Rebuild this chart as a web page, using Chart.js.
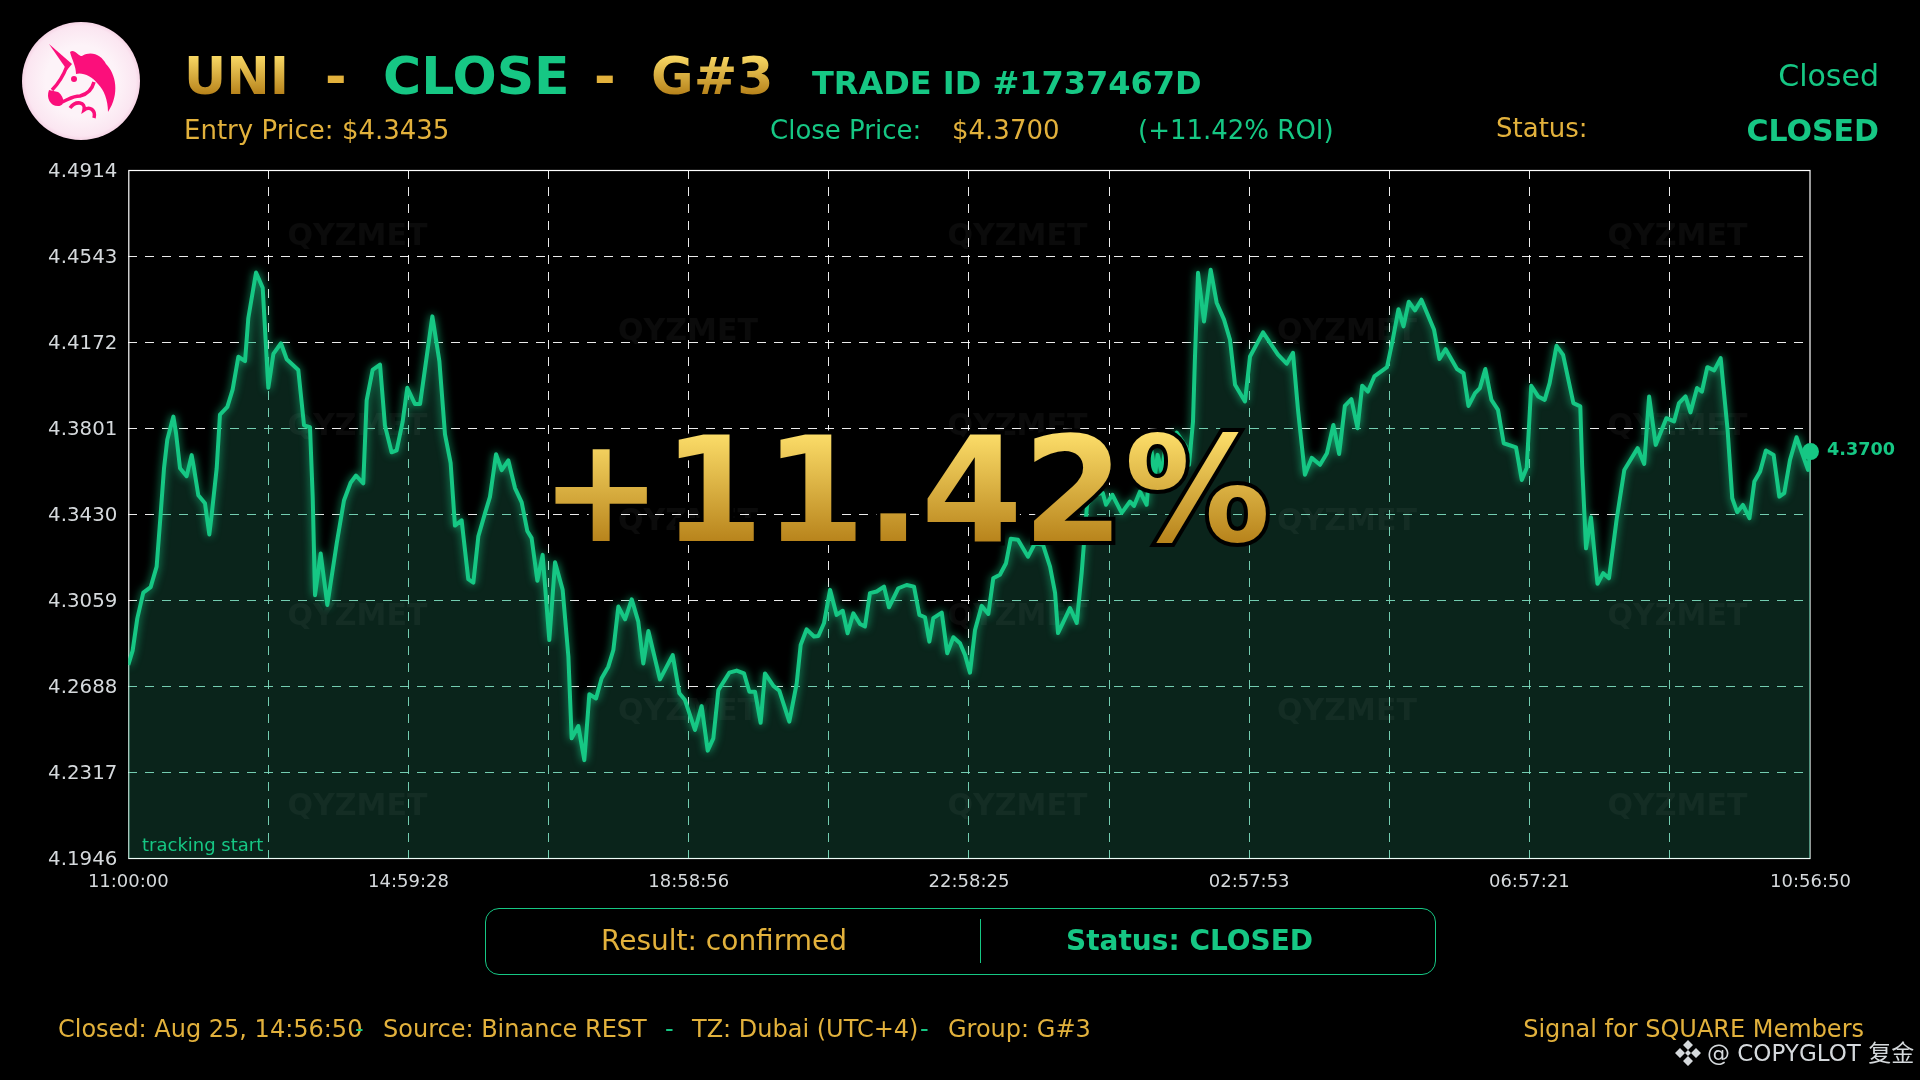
<!DOCTYPE html>
<html lang="en">
<head>
<meta charset="UTF-8">
<title>UNI close</title>
<script src="https://cdn.jsdelivr.net/npm/chart.js"></script>
<style>
    html, body { margin: 0; background: #000; }
    body { position: relative; width: 1920px; height: 1080px; overflow: hidden; font-family: "DejaVu Sans", sans-serif; }
    #chart { position: absolute; left: 0; top: 0; }
    .t { position: absolute; line-height: 1; white-space: pre; }
    .gold { color: #e2b13c; }
    .green { color: #16c784; }
    .b { font-weight: bold; }
    .head { font-size: 52px; font-weight: bold; top: 50px; }
    .grad { color: transparent; background: linear-gradient(#fbdc68 8%, #b8841c 84%); -webkit-background-clip: text; background-clip: text; }
    .big { position: absolute; left: 540px; top: 417px; font-size: 146px; font-weight: bold; line-height: 1; white-space: pre; }
    .big::before { content: attr(data-t); position: absolute; left: 0; top: 0; color: #000; -webkit-text-stroke: 8px #000; }
    .big span { position: relative; display: inline-block; color: transparent; background: linear-gradient(#fbdc68 12%, #b8841c 85%); -webkit-background-clip: text; background-clip: text; }
    #box { position: absolute; left: 485px; top: 908px; width: 949px; height: 65px; border: 1.5px solid #16c784; border-radius: 14px; }
    #boxDiv { position: absolute; left: 980px; top: 919px; width: 1.2px; height: 44px; background: #16c784; }
    #logo { position: absolute; left: 22px; top: 22px; }
    #mark { position: absolute; left: 1674px; top: 1039px; }
</style>
</head>
<body>
<canvas id="chart" width="1920" height="1080"></canvas>

<svg id="logo" width="118" height="118" viewBox="0 0 118 118">
    <defs>
        <radialGradient id="logoBg">
            <stop offset="0.6" stop-color="#fdf3f8"/>
            <stop offset="0.93" stop-color="#fbe6f1"/>
            <stop offset="1" stop-color="#f6d5e6"/>
        </radialGradient>
    </defs>
    <circle cx="59" cy="59" r="59" fill="url(#logoBg)"/>
    <g fill="#fb0f7b">
        <path d="M27 22 L50 42 L45 48 Z"/>
        <path d="M48 30 C52 26 56 34 60 34 C70 28 80 34 84 42 C94 52 98 72 86 90 C86 78 82 68 76 62 C70 54 60 50 54 52 C54 44 50 38 48 30 Z"/>
        <path d="M27 68 C24 76 28 84 36 84 C44 84 42 74 36 70 Z"/>
        <circle cx="52" cy="57" r="3"/>
    </g>
    <g fill="none" stroke="#fb0f7b" stroke-width="3.5">
        <path d="M45 44 C42 52 36 62 30 68 M40 80 C46 78 50 74 58 74 C66 72 70 68 72 60"/>
        <path d="M48 86 C54 78 64 80 62 88 C68 84 74 88 72 96"/>
    </g>
</svg>

<div class="t head grad" style="left:184px">UNI</div>
<div class="t head gold" style="left:325px">-</div>
<div class="t head green" style="left:383px">CLOSE</div>
<div class="t head gold" style="left:594px">-</div>
<div class="t head grad" style="left:651px">G#3</div>
<div class="t green b" style="left:812px;top:67px;font-size:32px">TRADE ID #1737467D</div>

<div class="t gold" style="left:184px;top:117px;font-size:26px">Entry Price: $4.3435</div>
<div class="t green" style="left:770px;top:117px;font-size:26px">Close Price:</div>
<div class="t gold" style="left:952px;top:117px;font-size:26px">$4.3700</div>
<div class="t green" style="left:1138px;top:117px;font-size:26px">(+11.42% ROI)</div>
<div class="t gold" style="left:1496px;top:115px;font-size:26px">Status:</div>
<div class="t green" style="right:41px;top:61px;font-size:30px">Closed</div>
<div class="t green b" style="right:41px;top:116px;font-size:30px">CLOSED</div>

<div class="t green" style="left:142px;top:836px;font-size:18px">tracking start</div>

<div class="big" data-t="+11.42%"><span>+11.42%</span></div>

<div id="box"></div>
<div id="boxDiv"></div>
<div class="t gold" style="left:601px;top:927px;font-size:28px">Result: confirmed</div>
<div class="t green b" style="left:1066px;top:927px;font-size:28px">Status: CLOSED</div>

<div class="t gold" style="left:58px;top:1017px;font-size:24px">Closed: Aug 25, 14:56:50</div>
<div class="t green" style="left:355px;top:1017px;font-size:24px">-</div>
<div class="t gold" style="left:383px;top:1017px;font-size:24px">Source: Binance REST</div>
<div class="t green" style="left:665px;top:1017px;font-size:24px">-</div>
<div class="t gold" style="left:692px;top:1017px;font-size:24px">TZ: Dubai (UTC+4)</div>
<div class="t green" style="left:920px;top:1017px;font-size:24px">-</div>
<div class="t gold" style="left:948px;top:1017px;font-size:24px">Group: G#3</div>
<div class="t gold" style="right:56px;top:1017px;font-size:24px">Signal for SQUARE Members</div>

<svg id="mark" width="28" height="28" viewBox="0 0 28 28" fill="#d5d9dc">
    <path d="M14 1 L19 6 L14 11 L9 6 Z M6 9 L11 14 L6 19 L1 14 Z M22 9 L27 14 L22 19 L17 14 Z M14 17 L19 22 L14 27 L9 22 Z"/>
    <path d="M14 11 L17 14 L14 17 L11 14 Z"/>
</svg>
<div class="t" style="left:1707px;top:1042px;font-size:23px;color:#d5d9dc;font-family:'DejaVu Sans','Noto Sans CJK SC',sans-serif">@ COPYGLOT 复金</div>

<script>
    const GREEN = '#16c784';

    // tempo desde 11:00:00, em minutos
    const elapsedMin = [
        0, 3.7, 7.7, 12.8, 19.1, 24.2, 27.6, 30.5, 33.3, 38.5, 40.7, 44.2, 49.8, 54.1, 56.1, 59.8, 65.5, 69.2, 71.2, 75.5,
        78.3, 84.6, 89.1, 94.0, 99.7, 102.5, 109.1, 114.8, 119.6, 123.9, 130.4, 135.3, 145.2, 150.1, 155.2, 157.5, 159.5, 164.3, 170.0, 178.0,
        184.2, 189.9, 194.5, 200.7, 203.6, 208.7, 215.0, 219.2, 224.9, 229.2, 234.3, 238.3, 244.9, 249.2, 259.7, 265.7, 270.5, 275.3, 279.0, 284.7,
        290.4, 294.7, 299.0, 304.7, 308.9, 314.1, 318.9, 324.6, 330.3, 336.0, 340.8, 344.5, 349.4, 353.9, 359.6, 364.5, 371.0, 375.9, 378.7, 384.4,
        389.5, 393.8, 399.5, 404.3, 410.0, 414.3, 418.6, 424.3, 430.0, 435.6, 439.9, 444.2, 454.1, 465.0, 470.7, 475.5, 484.0, 489.7, 494.9, 499.7,
        504.0, 513.4, 519.6, 525.9, 530.5, 535.3, 540.1, 543.8, 551.0, 556.1, 564.6, 570.9, 574.3, 579.4, 585.7, 589.4, 594.2, 599.4, 605.0, 610.2,
        614.4, 619.3, 625.0, 629.2, 633.5, 639.2, 645.5, 649.7, 657.7, 664.8, 671.1, 675.7, 680.5, 684.2, 687.6, 694.8, 699.5, 704.7, 710.4, 714.7,
        718.9, 723.2, 728.9, 734.6, 738.8, 744.5, 749.7, 753.7, 759.9, 768.5, 774.4, 781.3, 787.3, 791.6, 794.1, 804.4, 810.1, 814.3, 816.3, 818.9,
        824.9, 832.3, 835.1, 840.5, 848.5, 855.6, 859.0, 864.1, 869.8, 873.8, 876.9, 879.2, 882.7, 885.5, 891.4, 895.5, 903.4, 906.0, 909.4, 911.1,
        913.7, 918.8, 924.5, 929.6, 935.9, 941.0, 945.3, 953.8, 958.1, 969.2, 982.0, 989.4, 994.8, 999.1, 1005.0, 1010.8, 1017.9, 1023.8, 1029.3, 1034.2,
        1039.1, 1044.7, 1049.9, 1053.9, 1058.8, 1064.3, 1075.1, 1080.0, 1084.9, 1089.2, 1093.7, 1099.0, 1104.5, 1115.3, 1119.9, 1125.1, 1134.9, 1140.5, 1144.7, 1150.3,
        1154.5, 1159.1, 1164.3, 1169.9, 1174.8, 1185.3, 1190.2, 1194.4, 1198.3, 1204.2, 1209.8, 1214.0, 1219.9, 1225.5, 1234.3, 1240.2, 1241.8, 1245.1, 1249.3, 1254.9,
        1259.8, 1264.7, 1271.2, 1277.8, 1289.2, 1294.8, 1299.0, 1304.6, 1313.7, 1320.3, 1324.5, 1330.1, 1334.3, 1339.9, 1344.1, 1348.7, 1354.6, 1360.1, 1366.0, 1370.0,
        1374.2, 1379.1, 1384.7, 1388.9, 1393.8, 1398.7, 1405.3, 1410.2, 1414.4, 1419.3, 1424.9, 1434.7, 1436.8
    ];

    const closePrice = [
        4.2781, 4.2842, 4.2981, 4.3092, 4.3116, 4.3204, 4.3428, 4.3628, 4.3751, 4.3851, 4.3782, 4.3628, 4.3594, 4.3685, 4.3628, 4.3512, 4.3477, 4.3343, 4.3428, 4.3628,
        4.3859, 4.3893, 4.3967, 4.4109, 4.4090, 4.4275, 4.4472, 4.4406, 4.3975, 4.4121, 4.4167, 4.4098, 4.4052, 4.3813, 4.3805, 4.3505, 4.3081, 4.3261, 4.3039, 4.3304,
        4.3489, 4.3566, 4.3597, 4.3563, 4.3921, 4.4052, 4.4075, 4.3813, 4.3697, 4.3705, 4.3828, 4.3975, 4.3905, 4.3905, 4.4283, 4.4090, 4.3774, 4.3651, 4.3381, 4.3404,
        4.3150, 4.3135, 4.3335, 4.3435, 4.3505, 4.3689, 4.3620, 4.3662, 4.3543, 4.3481, 4.3358, 4.3327, 4.3143, 4.3255, 4.2888, 4.3223, 4.3104, 4.2816, 4.2464, 4.2517,
        4.2370, 4.2654, 4.2636, 4.2723, 4.2773, 4.2845, 4.3032, 4.2977, 4.3063, 4.2967, 4.2787, 4.2927, 4.2718, 4.2823, 4.2658, 4.2629, 4.2500, 4.2603, 4.2411, 4.2464,
        4.2672, 4.2747, 4.2756, 4.2744, 4.2665, 4.2665, 4.2531, 4.2744, 4.2690, 4.2669, 4.2536, 4.2701, 4.2867, 4.2934, 4.2903, 4.2905, 4.2960, 4.3104, 4.2996, 4.3014,
        4.2917, 4.3003, 4.2957, 4.2946, 4.3090, 4.3097, 4.3118, 4.3029, 4.3111, 4.3125, 4.3118, 4.2996, 4.2986, 4.2881, 4.2982, 4.3006, 4.2831, 4.2900, 4.2874, 4.2823,
        4.2747, 4.2931, 4.3035, 4.3000, 4.3154, 4.3169, 4.3219, 4.3324, 4.3320, 4.3247, 4.3305, 4.3298, 4.3204, 4.3091, 4.2918, 4.3026, 4.2961, 4.3177, 4.3307, 4.3471,
        4.3514, 4.3522, 4.3471, 4.3514, 4.3436, 4.3485, 4.3466, 4.3528, 4.3471, 4.3708, 4.3600, 4.3686, 4.3608, 4.3708, 4.3751, 4.3782, 4.3722, 4.3643, 4.3830, 4.4110,
        4.4471, 4.4261, 4.4484, 4.4342, 4.4269, 4.4182, 4.3988, 4.3916, 4.4110, 4.4214, 4.4118, 4.4079, 4.4126, 4.3880, 4.3600, 4.3673, 4.3643, 4.3693, 4.3815, 4.3690,
        4.3897, 4.3926, 4.3801, 4.3984, 4.3959, 4.4024, 4.4064, 4.4182, 4.4314, 4.4240, 4.4346, 4.4309, 4.4355, 4.4225, 4.4099, 4.4142, 4.4056, 4.4038, 4.3897, 4.3952,
        4.3974, 4.4056, 4.3923, 4.3880, 4.3736, 4.3718, 4.3578, 4.3629, 4.3984, 4.3938, 4.3923, 4.3995, 4.4156, 4.4117, 4.3909, 4.3895, 4.3636, 4.3283, 4.3417, 4.3130,
        4.3176, 4.3154, 4.3406, 4.3621, 4.3715, 4.3647, 4.3938, 4.3729, 4.3844, 4.3830, 4.3909, 4.3938, 4.3869, 4.3974, 4.3959, 4.4064, 4.4050, 4.4103, 4.3794, 4.3499,
        4.3439, 4.3470, 4.3413, 4.3571, 4.3614, 4.3705, 4.3686, 4.3506, 4.3521, 4.3664, 4.3762, 4.3621, 4.3700
    ];

    const priceTicks = [4.1946, 4.2317, 4.2688, 4.3059, 4.3430, 4.3801, 4.4172, 4.4543, 4.4914];
    const timeLabels = ['11:00:00', '14:59:28', '18:58:56', '22:58:25', '02:57:53', '06:57:21', '10:56:50'];
    const gridStepMin = 119.67;
    const maxMin = 1436.83;
    const watermark = 'QYZMET';

    const points = elapsedMin.map((x, i) => ({ x: x, y: closePrice[i] }));
    const lastIdx = points.length - 1;
    const timeTicks = [];
    for (let i = 0; i < 12; i++) timeTicks.push({ value: i * gridStepMin });
    timeTicks.push({ value: maxMin });

    // moldura, marca d'agua e as misturas do preenchimento
    const chartDeco = {
        id: 'chartDeco',
        beforeDraw(chart) {
            chart.ctx.fillStyle = '#000';
            chart.ctx.fillRect(0, 0, chart.width, chart.height);
        },
        beforeDatasetsDraw(chart) {
            const { ctx, chartArea: a } = chart;
            ctx.strokeStyle = '#fff';
            ctx.lineWidth = 1.2;
            ctx.strokeRect(a.left + 0.5, a.top + 0.5, a.right - a.left - 1, a.bottom - a.top - 0.5);
            ctx.globalCompositeOperation = 'multiply';
        },
        beforeDatasetDraw(chart, args) {
            if (args.index === 2) {
                chart.ctx.shadowColor = 'rgba(22,199,132,.85)';
                chart.ctx.shadowBlur = 9;
            }
        },
        afterDatasetDraw(chart, args) {
            const ctx = chart.ctx;
            if (args.index === 0) ctx.globalCompositeOperation = 'lighter';
            if (args.index === 1) {
                ctx.globalCompositeOperation = 'source-over';
                ctx.save();
                ctx.font = 'bold 30px "DejaVu Sans"';
                ctx.fillStyle = 'rgba(255,255,255,.042)';
                ctx.textAlign = 'center';
                ctx.textBaseline = 'middle';
                for (let row = 0; row < 7; row++) {
                    const cols = row % 2 ? [688, 1347] : [357.5, 1017.5, 1677.5];
                    cols.forEach(x => ctx.fillText(watermark, x, 237.5 + row * 95));
                }
                ctx.restore();
            }
            if (args.index === 2) {
                ctx.shadowColor = 'transparent';
                ctx.shadowBlur = 0;
            }
        },
        afterDraw(chart) {
            const ctx = chart.ctx;
            ctx.save();
            ctx.font = 'bold 17.6px "DejaVu Sans"';
            ctx.fillStyle = GREEN;
            ctx.textBaseline = 'middle';
            ctx.fillText(closePrice[lastIdx].toFixed(4), 1827, chart.scales.y.getPixelForValue(closePrice[lastIdx]) - 1);
            ctx.restore();
        }
    };

    new Chart(document.getElementById('chart').getContext('2d'), {
        type: 'line',
        data: {
            datasets: [
                { data: points, order: 5, fill: 'start', backgroundColor: 'rgb(115,184,163)', borderColor: 'transparent', borderWidth: 0, pointRadius: 0 },
                { data: points, order: 4, fill: 'start', backgroundColor: 'rgb(10,36,27)', borderColor: 'transparent', borderWidth: 0, pointRadius: 0 },
                { data: points, order: 2, fill: false, borderColor: GREEN, borderWidth: 4, pointRadius: 0, tension: 0, borderJoinStyle: 'round' },
                { data: [points[lastIdx]], order: 1, clip: false, showLine: false, backgroundColor: GREEN, borderColor: GREEN, pointRadius: 8.5, pointBorderWidth: 0 }
            ]
        },
        options: {
            responsive: false,
            animation: false,
            devicePixelRatio: 1,
            layout: { padding: { left: 0, top: 170, right: 109.5, bottom: 181.5 } },
            plugins: { legend: { display: false }, tooltip: { enabled: false } },
            scales: {
                x: {
                    type: 'linear',
                    min: 0,
                    max: maxMin,
                    afterBuildTicks: s => { s.ticks = timeTicks.map(t => ({ value: t.value })); },
                    afterFit: s => { s.height = 40; },
                    grid: {
                        color: c => (c.index === 0 || c.index === 12) ? 'transparent' : 'rgba(255,255,255,.92)',
                        lineWidth: 1,
                        drawTicks: false,
                    },
                    border: { display: false, dash: [9, 8] },
                    ticks: {
                        autoSkip: false,
                        maxRotation: 0,
                        padding: 13,
                        color: '#d5d9dc',
                        font: { family: '"DejaVu Sans"', size: 18 },
                        callback: (v, i) => i % 2 === 0 ? timeLabels[i / 2] : ''
                    }
                },
                y: {
                    min: priceTicks[0],
                    max: priceTicks[priceTicks.length - 1],
                    afterBuildTicks: s => { s.ticks = priceTicks.map(v => ({ value: v })); },
                    afterFit: s => { s.width = 128.3; },
                    grid: {
                        color: c => (c.index === 0 || c.index === priceTicks.length - 1) ? 'transparent' : 'rgba(255,255,255,.92)',
                        lineWidth: 1,
                        drawTicks: false,
                    },
                    border: { display: false, dash: [9, 8] },
                    ticks: {
                        autoSkip: false,
                        padding: 11,
                        labelOffset: 1.5,
                        color: '#d5d9dc',
                        font: { family: '"DejaVu Sans"', size: 19.8 },
                        callback: v => v.toFixed(4)
                    }
                }
            }
        },
        plugins: [chartDeco]
    });
</script>
</body>
</html>
